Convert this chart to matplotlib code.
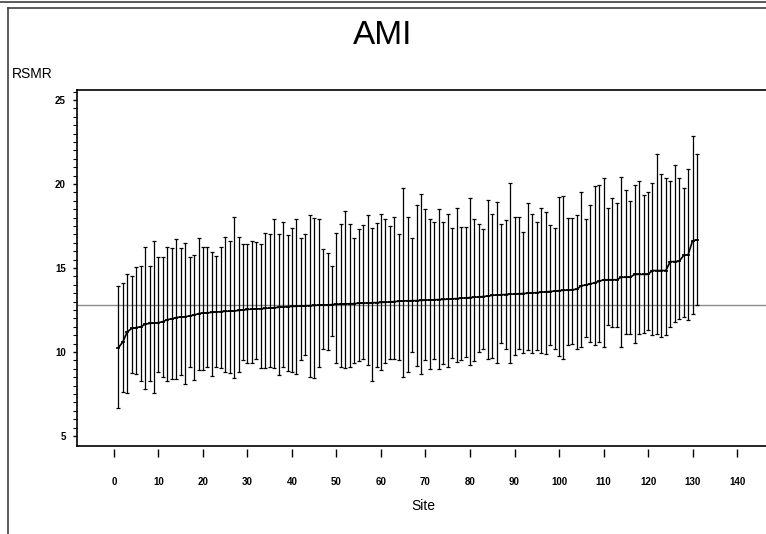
import matplotlib
matplotlib.use("Agg")
import matplotlib.pyplot as plt
import numpy as np
from matplotlib.lines import Line2D

plt.rcParams["font.family"] = ["Liberation Sans", "DejaVu Sans"]

# per-site risk standardized mortality rate (sorted), with interval bounds
sites = list(range(1, 132))
rsmr = [
    10.25, 10.6, 11.2, 11.4, 11.45, 11.5, 11.65, 11.7, 11.72, 11.75,
    11.8, 11.93, 11.97, 12.05, 12.08, 12.1, 12.14, 12.2, 12.28, 12.32,
    12.33, 12.36, 12.38, 12.4, 12.42, 12.43, 12.45, 12.47, 12.5, 12.53,
    12.55, 12.56, 12.57, 12.6, 12.61, 12.63, 12.66, 12.68, 12.7, 12.71,
    12.72, 12.74, 12.75, 12.76, 12.77, 12.79, 12.8, 12.8, 12.82, 12.84,
    12.85, 12.86, 12.87, 12.88, 12.9, 12.91, 12.92, 12.93, 12.94, 12.95,
    12.96, 12.98, 13.0, 13.02, 13.04, 13.05, 13.05, 13.06, 13.07, 13.08,
    13.1, 13.11, 13.12, 13.13, 13.14, 13.16, 13.18, 13.2, 13.22, 13.24,
    13.26, 13.28, 13.3, 13.33, 13.37, 13.39, 13.41, 13.42, 13.44, 13.45,
    13.47, 13.48, 13.5, 13.52, 13.53, 13.56, 13.58, 13.6, 13.62, 13.65,
    13.67, 13.69, 13.71, 13.73, 13.95, 13.98, 14.05, 14.12, 14.2, 14.3,
    14.3, 14.3, 14.3, 14.45, 14.45, 14.45, 14.62, 14.62, 14.62, 14.62,
    14.85, 14.85, 14.85, 14.85, 15.38, 15.38, 15.4, 15.75, 15.78, 16.62,
    16.68,
]
upper = [
    13.95, 14.13, 14.64, 14.5, 15.08, 15.14, 16.23, 15.14, 16.63, 15.63,
    15.63, 16.27, 16.17, 16.73, 16.17, 16.47, 15.63, 15.78, 16.8, 16.27,
    16.27, 15.93, 15.73, 16.23, 16.87, 16.63, 18.06, 16.87, 16.43, 16.43,
    16.63, 16.53, 16.43, 17.1, 17.0, 17.92, 17.05, 17.76, 16.95, 17.36,
    17.92, 16.8, 17.05, 18.15, 17.97, 17.92, 16.11, 15.92, 15.14, 17.1,
    17.62, 18.41, 17.62, 16.8, 17.3, 17.56, 18.15, 17.36, 17.66, 18.21,
    17.92, 17.52, 18.06, 17.05, 19.78, 18.06, 16.8, 18.75, 19.4, 18.5,
    17.92, 17.76, 18.5, 17.76, 18.21, 17.36, 18.6, 17.42, 17.42, 19.15,
    17.92, 17.62, 17.3, 19.05, 18.21, 18.95, 17.62, 17.86, 20.04, 18.06,
    18.06, 17.16, 18.85, 18.21, 17.72, 18.6, 18.35, 17.56, 17.36, 19.24,
    19.28, 18.0, 18.0, 18.15, 19.54, 17.9, 18.75, 19.88, 19.94, 20.34,
    18.59, 19.15, 18.9, 20.44, 19.64, 18.99, 19.94, 20.18, 19.35, 19.54,
    20.04, 21.77, 20.58, 20.38, 20.18, 21.13, 20.34, 19.78, 20.89, 22.86,
    21.77,
]
lower = [
    6.65, 7.64, 7.54, 8.77, 8.7, 8.27, 7.8, 8.27, 7.54, 8.8,
    8.49, 8.29, 8.37, 8.37, 8.62, 8.1, 9.09, 8.33, 8.93, 8.93,
    9.09, 8.57, 9.09, 9.03, 8.83, 8.77, 8.47, 8.83, 9.52, 9.36,
    9.32, 9.6, 9.03, 9.03, 9.13, 9.03, 8.62, 9.13, 8.87, 8.83,
    8.7, 9.52, 9.82, 8.53, 8.43, 9.09, 10.16, 10.12, 10.95, 9.36,
    9.09, 9.03, 9.13, 9.36, 9.48, 9.56, 9.22, 8.29, 9.13, 8.93,
    9.32, 9.6, 9.56, 9.52, 8.53, 8.83, 10.02, 9.17, 8.7, 9.52,
    8.97, 9.56, 8.97, 9.28, 9.09, 9.66, 9.42, 9.52, 9.72, 9.22,
    9.48, 10.02, 10.16, 9.56, 9.66, 9.32, 10.54, 10.2, 9.36, 9.82,
    10.16, 9.96, 10.12, 9.92, 10.12, 9.92, 9.88, 10.4, 10.2, 9.76,
    9.6, 10.4, 10.46, 10.16, 10.3, 10.87, 10.6, 10.44, 10.62, 10.32,
    11.6, 11.46, 11.5, 10.28, 11.05, 11.05, 10.52, 11.05, 11.11, 11.31,
    11.01, 11.05, 10.92, 11.01, 11.46, 11.77, 11.97, 12.1, 11.9, 12.24,
    12.8,
]
reference_rate = 12.8
x_ticks = list(range(0, 150, 10))
y_ticks = [5, 10, 15, 20, 25]

W, H = 766, 534
fig = plt.figure(figsize=(W / 100, H / 100), dpi=100)

# axes box runs past the right edge of the picture
ax = fig.add_axes([77 / W, (H - 446) / H, (790 - 77) / W, 356 / H])

# x ticks hang a little below the frame (set before tick styling: it resets ticks)
ax.spines["bottom"].set_position(("outward", 2))
ax.spines["bottom"].set_visible(False)
ax.add_line(Line2D([0, 1], [0, 0], transform=ax.transAxes, color="black",
                   lw=1.2, clip_on=False))
for side in ("top", "left"):
    ax.spines[side].set_linewidth(1.2)

ax.set_xlim(-8.3, 151.9)
ax.set_ylim(4.4, 25.6)

x = np.array(sites)
y = np.array(rsmr)
yerr = [y - np.array(lower), np.array(upper) - y]

ax.axhline(reference_rate, color="#8c8c8c", lw=1.0, zorder=1)
ax.errorbar(x, y, yerr=yerr, fmt="none", ecolor="black", elinewidth=0.9,
            capsize=1.6, capthick=0.9, zorder=2)
ax.plot(x, y, color="black", lw=1.2, marker="_", ms=3, mew=1.2, zorder=3)

ax.set_xticks(x_ticks)
ax.set_xticklabels([str(t) for t in x_ticks], fontsize=7, fontweight="bold")
ax.set_yticks(y_ticks)
ax.set_yticklabels([str(t) for t in y_ticks], fontsize=7, fontweight="bold")
ax.set_yticks(np.arange(5, 25.6, 0.5), minor=True)

ax.tick_params(axis="x", direction="out", length=6, width=1, pad=14, color="black")
ax.tick_params(axis="y", which="major", direction="out", length=3, width=1, pad=5)
ax.tick_params(axis="y", which="minor", direction="out", length=3, width=0.8)

fig.text(383 / W, 1 - 36 / H, "AMI", ha="center", va="center", fontsize=24)
fig.text(12 / W, 1 - 74 / H, "RSMR", ha="left", va="center", fontsize=10)
fig.text(423 / W, 1 - 506 / H, "Site", ha="center", va="center", fontsize=10)

# window frame lines
fig.add_artist(Line2D([0, 1], [1 - 2 / H, 1 - 2 / H], color="#404040", lw=1.2))
fig.add_artist(Line2D([8 / W, 1], [1 - 8 / H, 1 - 8 / H], color="#404040", lw=1.2))
fig.add_artist(Line2D([8 / W, 8 / W], [0, 1 - 8 / H], color="#404040", lw=1.2))

fig.savefig("out.png", dpi=100)
